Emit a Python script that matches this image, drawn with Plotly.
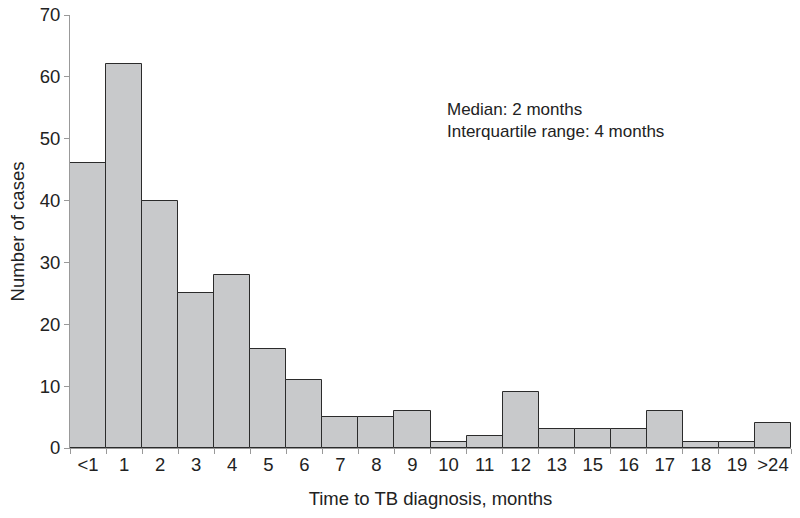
import plotly.graph_objects as go

categories = ["<1", "1", "2", "3", "4", "5", "6", "7", "8", "9", "10", "11",
              "12", "13", "15", "16", "17", "18", "19", ">24"]
cases = [46, 62, 40, 25, 28, 16, 11, 5, 5, 6, 1, 2, 9, 3, 3, 3, 6, 1, 1, 4]
y_ticks = [0, 10, 20, 30, 40, 50, 60, 70]

FONT = "Liberation Sans, Arial, sans-serif"

ML, MR, MT, MB = 70, 9, 15, 70

fig = go.Figure()
fig.add_trace(go.Bar(
    x=categories, y=cases,
    marker=dict(color="#c8c9cb", line=dict(color="#2b2b2b", width=1)),
    showlegend=False,
))

plot_w = 800 - ML - MR
plot_h = 518 - MT - MB

fig.update_layout(
    width=800, height=518,
    margin=dict(l=ML, r=MR, t=MT, b=MB),
    paper_bgcolor="white", plot_bgcolor="white",
    bargap=0,
    font=dict(family=FONT, size=18.5, color="#222"),
    xaxis=dict(
        type="category", tickson="boundaries", ticks="outside", ticklen=5,
        tickcolor="#999", showline=True, linecolor="#999", linewidth=1,
        showgrid=False, zeroline=False, tickfont=dict(size=18.5), tickangle=0,
        automargin=False, ticklabeloverflow="allow",
        title=dict(text="Time to TB diagnosis, months", font=dict(size=18.5), standoff=17),
    ),
    yaxis=dict(
        range=[0, 70], tickvals=y_ticks, ticks="outside", ticklen=5,
        tickcolor="#999", showline=True, linecolor="#999", linewidth=1,
        showgrid=False, zeroline=False, tickfont=dict(size=18.5),
        automargin=False, ticklabeloverflow="allow",
        title=dict(text="Number of cases", font=dict(size=18.5), standoff=10),
    ),
    annotations=[dict(
        x=(445 - 70) / plot_w, y=(448 - 98) / plot_h,
        xref="paper", yref="paper", xanchor="left", yanchor="top",
        text="Median: 2 months<br>Interquartile range: 4 months",
        showarrow=False, align="left", font=dict(size=17, color="#222"),
    )],
)

fig.write_html("out.html",
               config={"displayModeBar": False},
               post_script="document.body.style.margin='0';document.body.style.padding='0';")
